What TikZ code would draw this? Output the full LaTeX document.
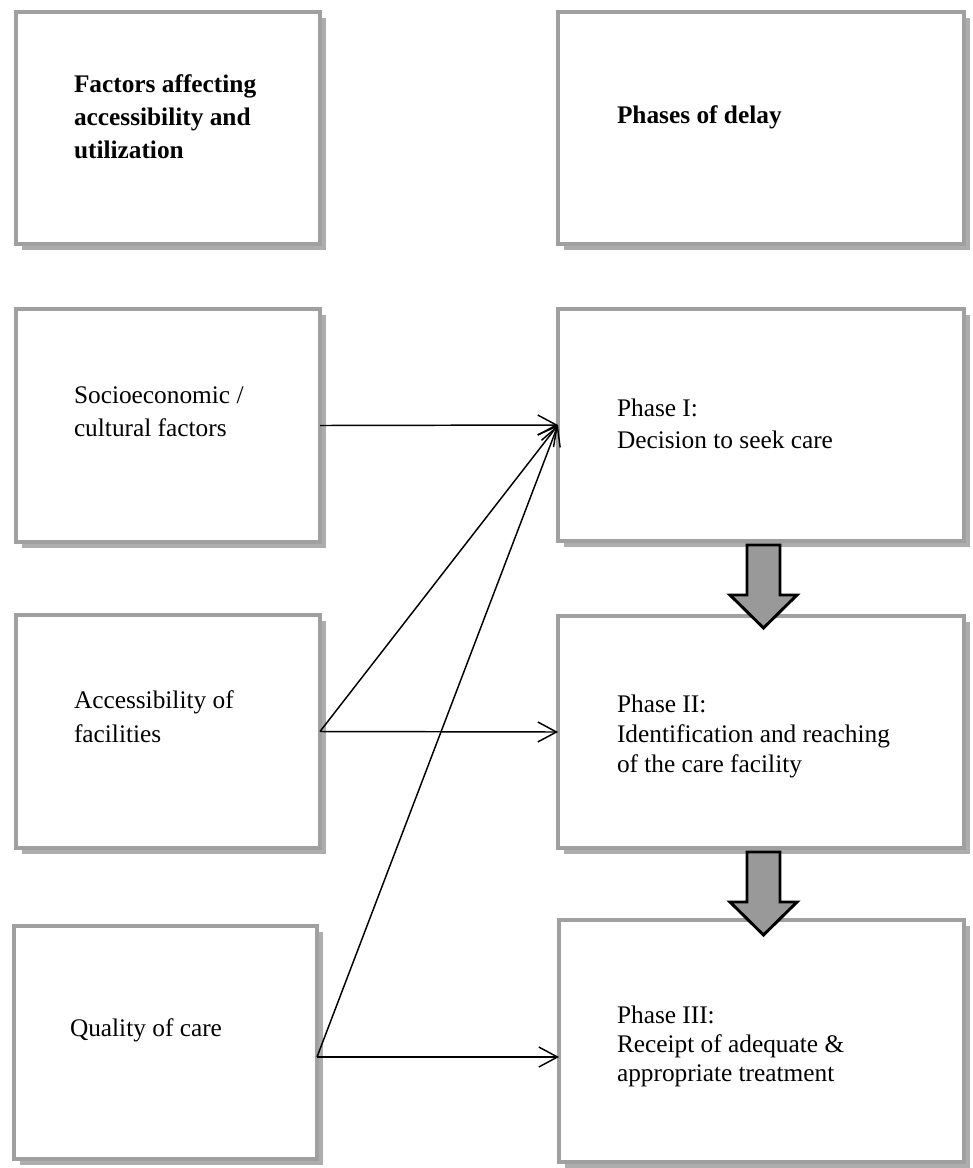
\documentclass[tikz,border=0pt]{standalone}
\usepackage{fontspec}
\setmainfont{Liberation Serif}
\usetikzlibrary{arrows.meta,shadows,calc}
\definecolor{boxgray}{HTML}{A0A0A0}
\definecolor{shadowgray}{HTML}{ADADAD}
\definecolor{arrowgray}{HTML}{999999}
\newcommand{\lbltext}[2]{{\fontsize{19}{#1}\selectfont\begin{tabular}[t]{@{}l@{}}#2\end{tabular}}}
\begin{document}
\begin{tikzpicture}[x=0.75pt,y=-0.75pt,
  box/.style={draw=boxgray, line width=2.6pt, fill=white, rectangle, inner sep=0pt, outer sep=0pt,
    drop shadow={shadow xshift=4.5pt, shadow yshift=-4.5pt, fill=shadowgray, opacity=1}},
  lbl/.style={anchor=base west, inner sep=0pt, outer sep=0pt},
  link/.style={line width=1.1pt, -{Straight Barb[length=14pt,width=15pt,line width=1.1pt]}},
  bigarrow/.style={fill=arrowgray, draw=black, line width=2.2pt, miter limit=10}]
\useasboundingbox (0,0) rectangle (972,1168);

% boxes
\node[box, minimum width=228pt, minimum height=174pt] (hf) at (168,128) {};
\node[box, minimum width=304.5pt, minimum height=174pt] (hp) at (761,128) {};
\node[box, minimum width=228pt, minimum height=174.75pt] (soc) at (168,425.5) {};
\node[box, minimum width=304.5pt, minimum height=174pt] (p1) at (761,425) {};
\node[box, minimum width=228pt, minimum height=174.75pt] (acc) at (168,731.5) {};
\node[box, minimum width=304.5pt, minimum height=174pt] (p2) at (761,732) {};
\node[box, minimum width=227.25pt, minimum height=174.75pt] (qual) at (165.5,1042.5) {};
\node[box, minimum width=303.75pt, minimum height=181.5pt] (p3) at (761.5,1041) {};

% labels
\node[lbl] (hft) at (74,92) {\lbltext{25pt}{\bfseries Factors affecting\\ \bfseries accessibility and\\ \bfseries utilization}};
\node[lbl] (hpt) at (617,123) {\lbltext{25pt}{\bfseries Phases of delay}};
\node[lbl] (soct) at (74,403) {\lbltext{25pt}{Socioeconomic /\\ cultural factors}};
\node[lbl] (p1t) at (617,416) {\lbltext{24pt}{Phase I:\\ Decision to seek care}};
\node[lbl] (acct) at (74,708) {\lbltext{25.5pt}{Accessibility of\\ facilities}};
\node[lbl] (p2t) at (617,712) {\lbltext{22.5pt}{Phase II:\\ Identification and reaching\\ of the care facility}};
\node[lbl] (qualt) at (70,1036) {\lbltext{22pt}{Quality of care}};
\node[lbl] (p3t) at (617,1023) {\lbltext{22pt}{Phase III:\\ Receipt of adequate \&\\ appropriate treatment}};

% connectors
\coordinate (qo) at ($(qual.east)+(0,14.5)$);
\coordinate (p3in) at ($(p3.west)+(0,16)$);
\draw[link] (soc.east) -- (p1.west);
\draw[link] (acc.east) -- (p1.west);
\draw[link] (acc.east) -- (p2.west);
\draw[link] (qo) -- (p1.west);
\draw[link] (qo) -- (p3in);

% block arrows
\draw[bigarrow] (747,545) -- (780,545) -- (780,595) -- (797,595) -- (763.5,628) -- (730,595) -- (747,595) -- cycle;
\draw[bigarrow] (747,852) -- (780,852) -- (780,902) -- (797,902) -- (763.5,935) -- (730,902) -- (747,902) -- cycle;
\end{tikzpicture}
\end{document}
